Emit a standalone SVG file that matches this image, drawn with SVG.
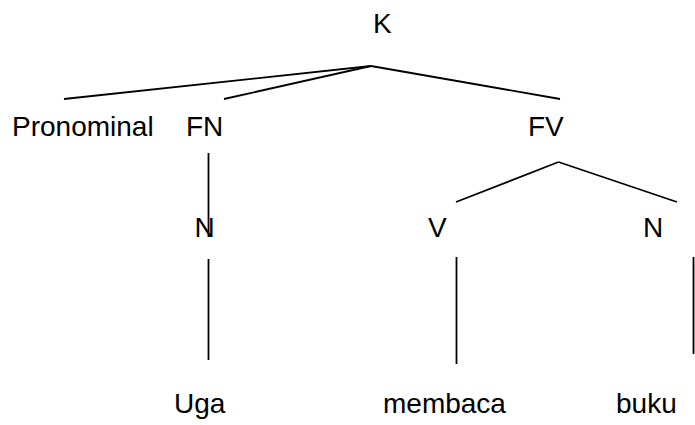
<svg xmlns="http://www.w3.org/2000/svg" width="695" height="425" viewBox="0 0 695 425">
  <style>
    .lbl { font-family: "Liberation Sans", Arial, sans-serif; font-size: 28px; fill: #000; }
    .edge { stroke: #000; stroke-width: 1.8; fill: none; stroke-linecap: butt; }
  </style>
  <rect width="695" height="425" fill="#fff"/>

  <!-- branches of the tree -->
  <g id="connectors">
    <line class="edge" x1="371" y1="66" x2="64" y2="99"/>
    <line class="edge" x1="371" y1="66" x2="224" y2="99"/>
    <line class="edge" x1="371" y1="66" x2="560" y2="99"/>
    <line class="edge" x1="208.5" y1="153" x2="208.5" y2="237"/>
    <line class="edge" x1="208.5" y1="259" x2="208.5" y2="360"/>
    <line class="edge" x1="558.5" y1="162" x2="456" y2="202"/>
    <line class="edge" x1="558.5" y1="162" x2="677" y2="202"/>
    <line class="edge" x1="456.5" y1="257" x2="456.5" y2="364"/>
    <line class="edge" x1="693.5" y1="257" x2="693.5" y2="354" stroke-width="2.2"/>
  </g>

  <g id="node-K"><text class="lbl" x="373" y="33">K</text></g>
  <g id="node-pronominal"><text class="lbl" x="12" y="136">Pronominal</text></g>
  <g id="node-FN"><text class="lbl" x="186" y="136">FN</text></g>
  <g id="node-FV"><text class="lbl" x="528" y="136">FV</text></g>
  <g id="node-N1"><text class="lbl" x="194.5" y="237">N</text></g>
  <g id="node-V"><text class="lbl" x="428" y="237">V</text></g>
  <g id="node-N2"><text class="lbl" x="643" y="237">N</text></g>
  <g id="node-uga"><text class="lbl" x="174" y="413">Uga</text></g>
  <g id="node-membaca"><text class="lbl" x="383" y="413">membaca</text></g>
  <g id="node-buku"><text class="lbl" x="616" y="413">buku</text></g>
</svg>
